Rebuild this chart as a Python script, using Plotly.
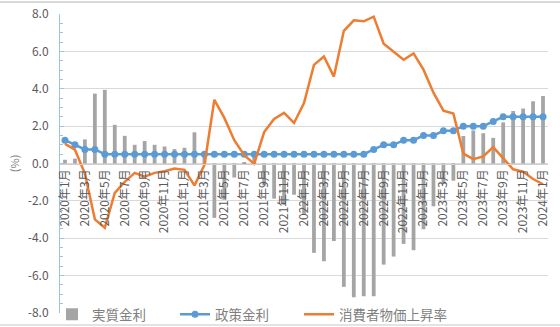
import plotly.graph_objects as go

# Monthly categories, Jan 2020 - Jan 2024
months = [
    "2020年1月", "2020年2月", "2020年3月", "2020年4月", "2020年5月", "2020年6月",
    "2020年7月", "2020年8月", "2020年9月", "2020年10月", "2020年11月", "2020年12月",
    "2021年1月", "2021年2月", "2021年3月", "2021年4月", "2021年5月", "2021年6月",
    "2021年7月", "2021年8月", "2021年9月", "2021年10月", "2021年11月", "2021年12月",
    "2022年1月", "2022年2月", "2022年3月", "2022年4月", "2022年5月", "2022年6月",
    "2022年7月", "2022年8月", "2022年9月", "2022年10月", "2022年11月", "2022年12月",
    "2023年1月", "2023年2月", "2023年3月", "2023年4月", "2023年5月", "2023年6月",
    "2023年7月", "2023年8月", "2023年9月", "2023年10月", "2023年11月", "2023年12月",
    "2024年1月",
]

# 実質金利 (%)
real_rate = [
    0.20, 0.26, 1.29, 3.74, 3.94, 2.07, 1.48, 1.00, 1.20, 1.00, 0.91, 0.77,
    0.84, 1.67, 0.58, -2.91, -1.94, -0.75, 0.05, 0.52, -1.18, -1.88, -2.21, -1.67,
    -2.73, -4.78, -5.23, -4.15, -6.60, -7.16, -7.11, -7.11, -5.41, -4.98, -4.30, -4.64,
    -3.52, -2.29, -1.08, -0.92, 1.47, 1.77, 1.62, 1.37, 2.20, 2.81, 2.94, 3.33,
    3.61,
]

# 政策金利 (%)
policy_rate = [
    1.25, 1.00, 0.75, 0.75, 0.50, 0.50, 0.50, 0.50, 0.50, 0.50, 0.50, 0.50,
    0.50, 0.50, 0.50, 0.50, 0.50, 0.50, 0.50, 0.50, 0.50, 0.50, 0.50, 0.50,
    0.50, 0.50, 0.50, 0.50, 0.50, 0.50, 0.50, 0.75, 1.00, 1.00, 1.25, 1.25,
    1.50, 1.50, 1.75, 1.75, 2.00, 2.00, 2.00, 2.25, 2.50, 2.50, 2.50, 2.50,
    2.50,
]

# 消費者物価上昇率 (%)
cpi = [
    1.05, 0.74, -0.54, -2.99, -3.44, -1.57, -0.98, -0.50, -0.70, -0.50, -0.41, -0.27,
    -0.34, -1.17, -0.08, 3.41, 2.44, 1.25, 0.45, -0.02, 1.68, 2.38, 2.71, 2.17,
    3.23, 5.28, 5.73, 4.65, 7.10, 7.66, 7.61, 7.86, 6.41, 5.98, 5.55, 5.89,
    5.02, 3.79, 2.83, 2.67, 0.53, 0.23, 0.38, 0.88, 0.30, -0.31, -0.44, -0.83,
    -1.11,
]

# every other month is labelled on the category axis
tick_months = months[::2]

y_ticks = [8, 6, 4, 2, 0, -2, -4, -6, -8]
y_tick_text = ["8.0", "6.0", "4.0", "2.0", "0.0", "-2.0", "-4.0", "-6.0", "-8.0"]

FONT = "Noto Sans CJK JP, Noto Sans, sans-serif"

fig = go.Figure()

fig.add_trace(go.Bar(
    x=months, y=real_rate, name="実質金利",
    marker=dict(color="#a5a5a5", line=dict(width=0)),
    width=0.38, legend="legend",
))
fig.add_trace(go.Scatter(
    x=months, y=policy_rate, name="政策金利", mode="lines+markers",
    line=dict(color="#5b9bd5", width=2.5),
    marker=dict(color="#5b9bd5", size=7, symbol="circle"),
    legend="legend2",
))
fig.add_trace(go.Scatter(
    x=months, y=cpi, name="消費者物価上昇率", mode="lines",
    line=dict(color="#ed7d31", width=2.5),
    legend="legend3",
))


def legend_box(x):
    # one legend entry per box, placed along the bottom gridline
    return dict(
        orientation="h",
        x=x, xanchor="left",
        y=-0.005, yanchor="middle",
        bgcolor="rgba(0,0,0,0)",
        font=dict(size=13.5, color="#7f7f7f", family=FONT),
        itemwidth=30,
    )


fig.update_layout(
    width=560, height=327,
    margin=dict(l=60, r=12, t=14, b=14, autoexpand=False),
    paper_bgcolor="white",
    plot_bgcolor="white",
    font=dict(family=FONT, color="#595959", size=12),
    showlegend=True,
    legend=legend_box(-0.0164),
    legend2=legend_box(0.2357),
    legend3=legend_box(0.4898),
    xaxis=dict(
        type="category",
        categoryorder="array", categoryarray=months,
        anchor="free", position=0.5,
        automargin=False,
        tickmode="array", tickvals=tick_months, ticktext=tick_months,
        tickangle=-90,
        tickfont=dict(size=12, color="#595959", family=FONT),
        showline=True, linecolor="#d0d0d0", linewidth=1,
        ticks="", showgrid=False, zeroline=False,
        range=[-0.5, len(months) - 0.5],
    ),
    yaxis=dict(
        range=[-8, 8],
        automargin=False,
        tickmode="array", tickvals=y_ticks, ticktext=y_tick_text,
        tickfont=dict(size=12, color="#595959", family=FONT),
        showgrid=True, gridcolor="#d9d9d9", gridwidth=1,
        zeroline=False,
        showline=True, linecolor="#9dc3e6", linewidth=1,
        ticks="inside", ticklen=4, tickcolor="#9dc3e6",
        minor=dict(dtick=0.5, ticks="inside", ticklen=3, tickcolor="#9dc3e6", showgrid=False),
        ticklabelstandoff=8,
    ),
    annotations=[
        dict(
            text="(%)", xref="paper", yref="paper",
            x=-0.095, y=0.5, xanchor="center", yanchor="middle",
            textangle=-90, showarrow=False,
            font=dict(size=11, color="#7f7f7f", family=FONT),
        ),
    ],
    shapes=[
        dict(type="line", xref="paper", yref="paper", x0=-0.2, x1=1.1,
             y0=1.0 + 12 / 299, y1=1.0 + 12 / 299,
             line=dict(color="#d9d9d9", width=2)),
        dict(type="line", xref="paper", yref="paper", x0=-0.2, x1=1.1,
             y0=-12 / 299, y1=-12 / 299,
             line=dict(color="#e3e3e3", width=2)),
    ],
)

fig.write_html("out.html")
